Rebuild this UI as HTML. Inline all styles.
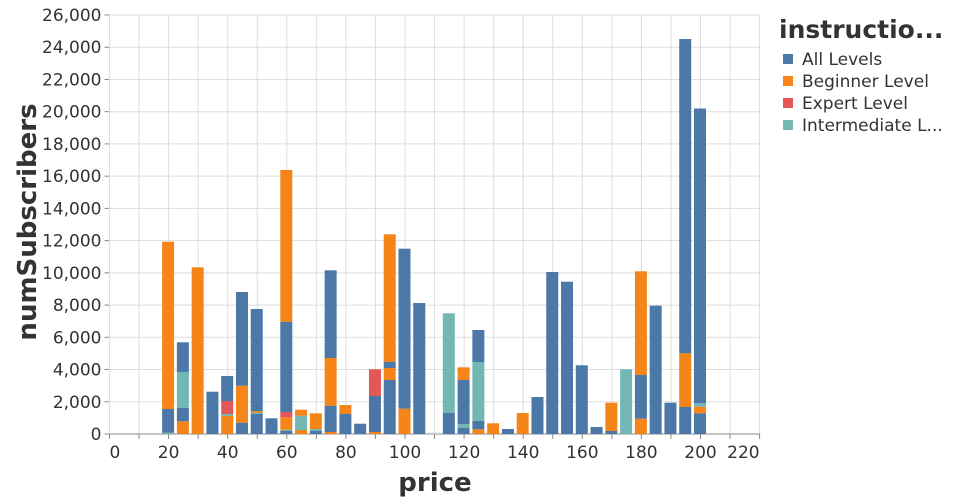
<!DOCTYPE html>
<html><head><meta charset="utf-8"><style>
html,body{margin:0;padding:0;background:#fff;}
svg{display:block;font-family:"DejaVu Sans","Liberation Sans",sans-serif;}
</style></head><body>
<svg id="c" width="960" height="500" xmlns="http://www.w3.org/2000/svg"></svg>
<script>
const s=document.getElementById('c');
const L=109.5,R=760,Y0=434,YT=15;
const xs=p=>L+p*2.955;
const ys=v=>Y0-v*(Y0-YT)/26000;
let h='';
for(let v=0;v<=26000;v+=2000){const y=ys(v);h+=`<line x1="${L}" x2="${R}" y1="${y}" y2="${y}" stroke="#ddd"/>`;
h+=`<line x1="${L-5}" x2="${L}" y1="${y}" y2="${y}" stroke="#888"/>`;
h+=`<text x="${L-8}" y="${y+6}" text-anchor="end" font-size="17" fill="#333">${v.toLocaleString('en-US')}</text>`;}
for(let p=0;p<=220;p+=10){const x=xs(p);h+=`<line x1="${x}" x2="${x}" y1="${YT}" y2="${Y0}" stroke="#ddd"/>`;
h+=`<line x1="${x}" x2="${x}" y1="${Y0}" y2="${Y0+5}" stroke="#888"/>`;
if(p%20==0){const a=p==0?'start':(p==220?'end':'middle');
h+=`<text x="${x}" y="458" text-anchor="${a}" font-size="17" fill="#333">${p}</text>`;}}
h+=`<line x1="${L}" x2="${R}" y1="${Y0}" y2="${Y0}" stroke="#888"/>`;
const C={b:'#4c78a8',o:'#f58518',r:'#e45756',t:'#72b7b2'};
const D=[
[20,[['t',434,432.7],['b',432.7,409],['o',409,241.7]]],
[25,[['o',434,421.3],['b',421.3,407.7],['t',407.7,372],['b',372,342.3]]],
[30,[['o',434,267.3]]],
[35,[['b',434,391.7]]],
[40,[['o',434,416],['t',416,414],['r',414,401],['b',401,376]]],
[45,[['b',434,422.7],['o',422.7,385.7],['b',385.7,292]]],
[50,[['b',434,414],['t',414,412.5],['o',412.5,411],['b',411,309]]],
[55,[['b',434,418.3]]],
[60,[['b',434,431],['t',431,429.7],['o',429.7,417.3],['r',417.3,412],['b',412,321.7],['o',321.7,170]]],
[65,[['o',434,430],['t',430,415.7],['o',415.7,409.7]]],
[70,[['b',434,431],['t',431,429],['o',429,413.3]]],
[75,[['o',434,432],['b',432,405.7],['o',405.7,358],['b',358,270.3]]],
[80,[['b',434,414],['o',414,405]]],
[85,[['b',434,423.7]]],
[90,[['o',434,432],['b',432,396],['r',396,369.3]]],
[95,[['b',434,380],['o',380,368],['b',368,361.7],['o',361.7,234.3]]],
[100,[['o',434,408.7],['b',408.7,248.7]]],
[105,[['b',434,303]]],
[115,[['b',434,413],['t',413,313.3]]],
[120,[['b',434,428],['t',428,424],['b',424,418],['b',418,380],['o',380,367.3]]],
[125,[['o',434,429.3],['b',429.3,420.7],['t',420.7,362],['b',362,330]]],
[130,[['o',434,423.3]]],
[135,[['b',434,429]]],
[140,[['o',434,413]]],
[145,[['b',434,397]]],
[150,[['b',434,272]]],
[155,[['b',434,281.7]]],
[160,[['b',434,365.3]]],
[165,[['b',434,427]]],
[170,[['b',434,431],['o',431,402.7]]],
[175,[['t',434,369.3]]],
[180,[['o',434,418.7],['b',418.7,375],['o',375,271.3]]],
[185,[['b',434,305.7]]],
[190,[['b',434,402.7]]],
[195,[['b',434,407],['o',407,353.3],['b',353.3,39]]],
[200,[['b',434,413.3],['o',413.3,406.7],['t',406.7,403.3],['b',403.3,108.5]]]
];
for(const [p,segs] of D){const cx=xs(p)-0.5;for(const [c,b,t] of segs){
h+=`<rect x="${cx-6}" y="${t}" width="12" height="${b-t}" fill="${C[c]}"/>`;}}
h+=`<rect x="${xs(110)-6.5}" y="432.5" width="12" height="1.5" fill="#c8d4e3"/>`;
h+=`<text x="435" y="491" text-anchor="middle" font-size="26" font-weight="bold" fill="#333">price</text>`;
h+=`<text transform="translate(36,222) rotate(-90)" text-anchor="middle" font-size="26" font-weight="bold" fill="#333">numSubscribers</text>`;
h+=`<text x="779" y="38" font-size="25" font-weight="bold" fill="#333">instructio...</text>`;
const lg=[['b','All Levels'],['o','Beginner Level'],['r','Expert Level'],['t','Intermediate L...']];
lg.forEach(([c,t],i)=>{const y=59+i*22;h+=`<rect x="783" y="${y-5}" width="10" height="10" fill="${C[c]}"/>`;
h+=`<text x="802" y="${y+6}" font-size="17" fill="#333">${t}</text>`;});
s.innerHTML=h;
</script>
</body></html>
